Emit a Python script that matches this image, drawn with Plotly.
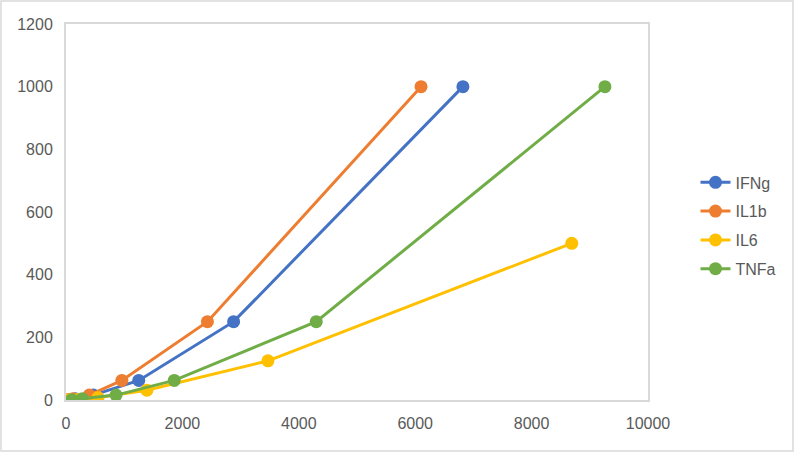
import plotly.graph_objects as go

series_names = ["IFNg", "IL1b", "IL6", "TNFa"]
ifng_x = [60, 160, 470, 1250, 2880, 6820]
ifng_y = [0.98, 3.9, 15.6, 62.5, 250, 1000]
il1b_x = [30, 120, 400, 960, 2430, 6100]
il1b_y = [0.98, 3.9, 15.6, 62.5, 250, 1000]
il6_x = [60, 200, 550, 1390, 3470, 8690]
il6_y = [0.49, 1.95, 7.8, 31.25, 125, 500]
tnfa_x = [100, 280, 860, 1860, 4300, 9260]
tnfa_y = [0.98, 3.9, 15.6, 62.5, 250, 1000]
colors = ["#4472C4", "#ED7D31", "#FFC000", "#70AD47"]

xs = [ifng_x, il1b_x, il6_x, tnfa_x]
ys = [ifng_y, il1b_y, il6_y, tnfa_y]

fig = go.Figure()
for name, x, y, c in zip(series_names, xs, ys, colors):
    fig.add_trace(go.Scatter(x=x, y=y, name=name, mode="lines+markers",
                             legendgroup=name,
                             line=dict(color=c, width=3),
                             marker=dict(color=c, size=13)))

font = dict(family="Liberation Sans, Arial, sans-serif", size=16, color="#595959")
fig.update_layout(
    width=794, height=452,
    margin=dict(l=66, r=146, t=24, b=52),
    paper_bgcolor="white", plot_bgcolor="white",
    font=font,
    showlegend=True,
    legend=dict(x=1.0816, xanchor="left", y=0.463, yanchor="middle",
                traceorder="grouped", tracegroupgap=5,
                font=font, bgcolor="rgba(0,0,0,0)"),
    xaxis=dict(range=[0, 10000], dtick=2000, tickformat="d", showgrid=False, zeroline=False,
               showline=True, linecolor="#D9D9D9", linewidth=2, mirror=True,
               ticks="", ticklabelstandoff=8, tickfont=font),
    yaxis=dict(range=[0, 1200], dtick=200, tickformat="d", showgrid=False, zeroline=False,
               showline=True, linecolor="#D9D9D9", linewidth=2, mirror=True,
               ticks="", ticklabelstandoff=8, tickfont=font),
    shapes=[dict(type="rect", xref="paper", yref="paper",
                 x0=-65/582, x1=727/582, y0=-51/376, y1=(376+23)/376,
                 line=dict(color="#D9D9D9", width=1.5), fillcolor="rgba(0,0,0,0)")],
)
fig.write_html("out.html", config={"displayModeBar": False},
               post_script="document.body.style.margin='0';document.body.style.overflow='hidden';")
